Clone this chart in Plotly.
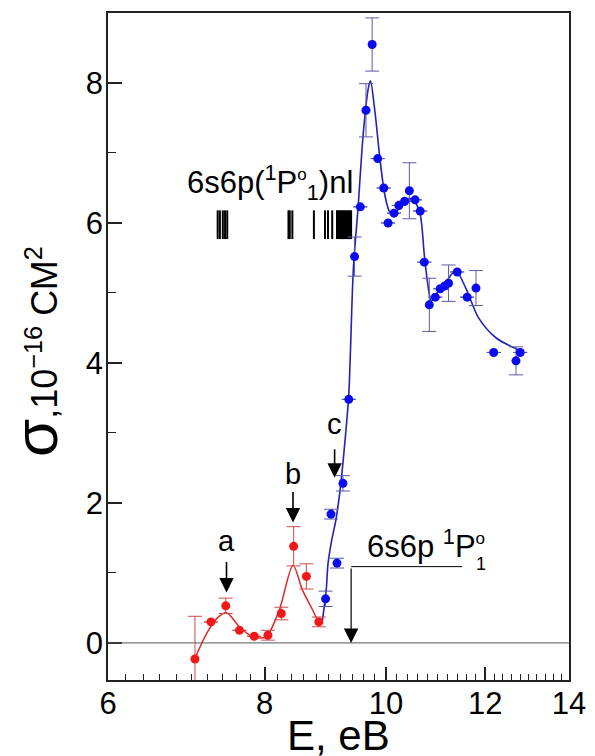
import math
import plotly.graph_objects as go

# ---------------- data ----------------
red_E = [7.04, 7.25, 7.45, 7.64, 7.85, 8.05, 8.25, 8.44, 8.64, 8.84]
red_sigma = [-0.23, 0.30, 0.53, 0.18, 0.095, 0.11, 0.42, 1.38, 0.95, 0.30]
red_err = [0.61, 0, 0.11, 0, 0, 0.07, 0.09, 0.28, 0.18, 0.07]

red_fit_E = [7.04, 7.19, 7.33, 7.46, 7.64, 7.83, 8.02, 8.22, 8.43, 8.58, 8.74, 8.84]
red_fit_sigma = [-0.22, 0.13, 0.35, 0.43, 0.23, 0.085, 0.085, 0.47, 1.11, 0.75, 0.47, 0.28]

blue_E = [8.95, 9.04, 9.14, 9.24, 9.34, 9.44, 9.54, 9.64, 9.75, 9.85, 9.96, 10.04, 10.15,
          10.24, 10.35, 10.44, 10.55, 10.65, 10.73, 10.83, 10.95, 11.05, 11.14, 11.22,
          11.40, 11.61, 11.80, 12.19, 12.70, 12.80]
blue_sigma = [0.63, 1.84, 1.14, 2.28, 3.48, 5.52, 6.23, 7.61, 8.55, 6.92, 6.50, 6.00, 6.14,
              6.25, 6.31, 6.46, 6.33, 6.17, 5.44, 4.83, 4.94, 5.06, 5.10, 5.14,
              5.30, 4.94, 5.07, 4.15, 4.03, 4.15]
blue_err = [0.11, 0.07, 0.07, 0.11, 0, 0.28, 0, 0.38, 0.38, 0, 0, 0, 0,
            0, 0, 0.40, 0, 0, 0, 0.38, 0, 0, 0, 0.26,
            0, 0, 0.25, 0, 0.20, 0]

blue_fit_E = [8.90, 8.96, 8.99, 9.05, 9.12, 9.19, 9.28, 9.34, 9.42, 9.50, 9.59, 9.68, 9.72,
              9.80, 9.89, 9.98, 10.07, 10.15, 10.31, 10.44, 10.53, 10.65, 10.73, 10.81,
              10.87, 10.96, 11.15, 11.37, 11.58, 11.86, 12.24, 12.78]
blue_fit_sigma = [0.33, 0.75, 1.13, 1.46, 1.75, 2.17, 2.93, 3.55, 5.36, 6.21, 7.26, 7.92, 8.03,
                  7.59, 6.92, 6.40, 6.16, 6.14, 6.26, 6.35, 6.32, 6.12, 5.55, 5.07,
                  4.88, 4.98, 5.14, 5.32, 5.07, 4.64, 4.36, 4.18]

# 6s6p(1P1)nl autoionizing levels
level_E = [7.34, 7.37, 7.41, 7.44, 7.47, 8.36, 8.38, 8.42, 8.76, 8.94, 8.99, 9.06,
           9.14, 9.16, 9.18, 9.20, 9.22, 9.24, 9.26, 9.28, 9.30, 9.32, 9.34, 9.36, 9.38]
level_sigma_range = [5.77, 6.18]

threshold_E = 9.38          # 6s6p 1P1 threshold
threshold_label_end_E = 11.50
threshold_line_sigma = 1.09

x_tick_vals = [6, 8, 10, 12, 14]
y_tick_vals = [0, 2, 4, 6, 8]

FONT = "Liberation Sans, Arial, sans-serif"
RED = "#f01818"
RED_ERR = "#d04a4a"
BLUE = "#0b0bf0"
BLUE_LINE = "#1f24b4"
BLUE_ERR = "#5a5aa8"

fig = go.Figure()

# zero line
fig.add_hline(y=0, line=dict(color="#555555", width=1))

# levels
lx, ly = [], []
for e in level_E:
    lx += [e, e, None]
    ly += [level_sigma_range[0], level_sigma_range[1], None]
fig.add_trace(go.Scatter(x=lx, y=ly, mode="lines", line=dict(color="black", width=2),
                         hoverinfo="skip", showlegend=False))

# threshold horizontal line
fig.add_trace(go.Scatter(x=[threshold_E, threshold_label_end_E],
                         y=[threshold_line_sigma, threshold_line_sigma],
                         mode="lines", line=dict(color="black", width=1),
                         showlegend=False, hoverinfo="skip"))

# fits
fig.add_trace(go.Scatter(x=red_fit_E, y=red_fit_sigma, mode="lines",
                         line=dict(color="#e02a2a", width=1.5, shape="spline", smoothing=0.8),
                         showlegend=False))
fig.add_trace(go.Scatter(x=blue_fit_E, y=blue_fit_sigma, mode="lines",
                         line=dict(color=BLUE_LINE, width=1.6, shape="spline", smoothing=0.8),
                         showlegend=False))

# points
fig.add_trace(go.Scatter(x=red_E, y=red_sigma, mode="markers",
                         marker=dict(color=RED, size=9),
                         error_y=dict(type="data", array=red_err, color=RED_ERR,
                                      thickness=1, width=7),
                         showlegend=False))
fig.add_trace(go.Scatter(x=blue_E, y=blue_sigma, mode="markers",
                         marker=dict(color=BLUE, size=9),
                         error_y=dict(type="data", array=blue_err, color=BLUE_ERR,
                                      thickness=1, width=7),
                         showlegend=False))

L = math.log10
annotations = []
# arrows a, b, c
for lab, e, s, ts, alen in [("a", 7.46, 0.72, 1.46, 32), ("b", 8.43, 1.72, 2.42, 32),
                            ("c", 9.10, 2.36, 3.13, 30)]:
    annotations.append(dict(x=L(e), y=s, xref="x", yref="y", text="", showarrow=True,
                            ax=0, ay=-alen, arrowhead=2, arrowsize=1.8, arrowwidth=1.6,
                            arrowcolor="black"))
    annotations.append(dict(x=L(e), y=ts, xref="x", yref="y", text=lab, showarrow=False,
                            font=dict(size=29, color="black", family=FONT)))
# threshold arrow
annotations.append(dict(x=L(threshold_E), y=0, xref="x", yref="y", text="", showarrow=True,
                        ax=0, ay=-76, arrowhead=2, arrowsize=2.4, arrowwidth=1.2,
                        arrowcolor="black"))
annotations.append(dict(x=L(9.63), y=1.42, xref="x", yref="y", xanchor="left",
                        text="6s6p <sup>1</sup>P<sup><span style='font-size:17px'>o</span></sup>",
                        showarrow=False,
                        font=dict(size=31, color="black", family=FONT)))
annotations.append(dict(x=L(11.92), y=1.13, xref="x", yref="y",
                        text="1", showarrow=False,
                        font=dict(size=18, color="black", family=FONT)))
# levels label
annotations.append(dict(x=L(6.91), y=6.58, xref="x", yref="y", xanchor="left",
                        text="6s6p(<sup>1</sup>P<sup><span style='font-size:17px'>o</span></sup>"
                             "<sub>1</sub>)nl",
                        showarrow=False,
                        font=dict(size=31, color="black", family=FONT)))
# axis titles
annotations.append(dict(x=-0.156, y=0.492, xref="paper", yref="paper", textangle=-90,
                        xanchor="center", yanchor="middle",
                        text="<span style='font-size:62px'>σ</span>,10<sup>−16</sup> СМ<sup>2</sup>",
                        showarrow=False, font=dict(size=36, color="black", family=FONT)))
annotations.append(dict(x=0.501, y=-0.083, xref="paper", yref="paper",
                        xanchor="center", yanchor="middle",
                        text="E, еВ", showarrow=False,
                        font=dict(size=42, color="black", family=FONT)))

fig.update_layout(
    width=595, height=756,
    margin=dict(l=100, r=34, t=3, b=84),
    paper_bgcolor="white", plot_bgcolor="white",
    font=dict(family=FONT, color="black"),
    annotations=annotations,
    showlegend=False,
)
minor_x = [round(6 + 0.2 * i, 1) for i in range(41)]
minor_x = [v for v in minor_x if abs(v - round(v / 2) * 2) > 1e-6]
fig.update_xaxes(type="log", range=[L(6), L(14)], tickvals=x_tick_vals,
                 ticktext=[str(v) for v in x_tick_vals],
                 ticks="inside", ticklen=13, tickwidth=1.5, tickcolor="#222",
                 showline=True, linecolor="#222", linewidth=1.5, mirror=True,
                 showgrid=False, zeroline=False, ticklabelstandoff=-5,
                 tickfont=dict(size=31, family=FONT, color="black"),
                 minor=dict(tickmode="array", tickvals=minor_x, ticks="inside",
                            ticklen=6, tickwidth=1.2, tickcolor="#222", showgrid=False))
fig.update_yaxes(range=[-0.53, 9.0], tickvals=y_tick_vals,
                 ticks="inside", ticklen=14, tickwidth=1.5, tickcolor="#222",
                 showline=True, linecolor="#222", linewidth=1.5, mirror=True,
                 showgrid=False, zeroline=False, ticklabelstandoff=-3,
                 tickfont=dict(size=31, family=FONT, color="black"),
                 minor=dict(dtick=1, tick0=0, ticks="inside", ticklen=8, tickwidth=1.2,
                            tickcolor="#222", showgrid=False))

fig.write_html("out.html")
